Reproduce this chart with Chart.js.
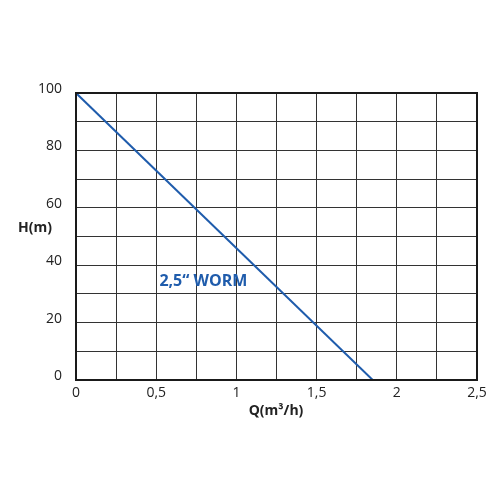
<!DOCTYPE html>
<html>
<head>
<meta charset="utf-8">
<script src="https://cdn.jsdelivr.net/npm/chart.js@4/dist/chart.umd.min.js"></script>
<style>
  html, body { margin: 0; padding: 0; background: #fff; }
  #wrap { width: 500px; height: 500px; }
</style>
</head>
<body>
<div id="wrap"><canvas id="grafico" width="500" height="500"></canvas></div>
<script>
// curva da bomba
const flowQ = [0, 1.85];
const headH = [100, 0];
const curveLabel = '2,5\u201C WORM';
const xTicks = [0, 0.5, 1, 1.5, 2, 2.5];
const yTicks = [0, 20, 40, 60, 80, 100];

const fonte = '"Open Sans", "Liberation Sans", sans-serif';
const azul = '#1f5cac';

const fmt = (v) => String(Math.round(v * 100) / 100).replace('.', ',');

// moldura, titulos e rotulo da curva
const extras = {
  id: 'extras',
  afterDraw(chart) {
    const { ctx, chartArea: a, scales } = chart;
    ctx.save();
    ctx.strokeStyle = '#1a1a1a';
    ctx.lineWidth = 2;
    ctx.strokeRect(a.left, a.top, a.right - a.left, a.bottom - a.top);

    ctx.fillStyle = '#222';
    ctx.font = 'bold 14px ' + fonte;
    ctx.textAlign = 'center';
    ctx.textBaseline = 'middle';
    ctx.fillText('H(m)', 35, 228);
    ctx.fillText('Q(m\u00B3/h)', 276, 411);

    ctx.fillStyle = azul;
    ctx.font = 'bold 16px ' + fonte;
    ctx.textAlign = 'left';
    ctx.fillText(curveLabel, scales.x.getPixelForValue(0.52), scales.y.getPixelForValue(34.3));
    ctx.restore();
  }
};

const ctx = document.getElementById('grafico').getContext('2d');
new Chart(ctx, {
  type: 'scatter',
  data: {
    datasets: [{
      data: flowQ.map((q, i) => ({ x: q, y: headH[i] })),
      showLine: true,
      borderColor: azul,
      borderWidth: 2,
      pointRadius: 0
    }]
  },
  options: {
    responsive: false,
    animation: false,
    layout: { padding: { top: 93, right: 23, left: 0, bottom: 0 } },
    scales: {
      x: {
        type: 'linear', min: 0, max: 2.5,
        afterFit: (s) => { s.height = 120; },
        grid: { color: '#333', lineWidth: 1, drawTicks: false },
        border: { color: '#1a1a1a', width: 2 },
        ticks: {
          stepSize: 0.25, padding: 5, color: '#222',
          font: { family: fonte, size: 14 },
          maxRotation: 0, autoSkip: false,
          callback: (v) => xTicks.some(t => Math.abs(t - v) < 1e-6) ? fmt(v) : ''
        }
      },
      y: {
        min: 0, max: 100,
        afterFit: (s) => { s.width = 76; },
        grid: { color: '#333', lineWidth: 1, drawTicks: false },
        border: { color: '#1a1a1a', width: 2 },
        ticks: {
          stepSize: 10, padding: 14, color: '#222',
          font: { family: fonte, size: 14 },
          autoSkip: false, labelOffset: -4,
          callback: (v) => yTicks.includes(v) ? String(v) : ''
        }
      }
    },
    plugins: { legend: { display: false }, tooltip: { enabled: false } }
  },
  plugins: [extras]
});
</script>
</body>
</html>
